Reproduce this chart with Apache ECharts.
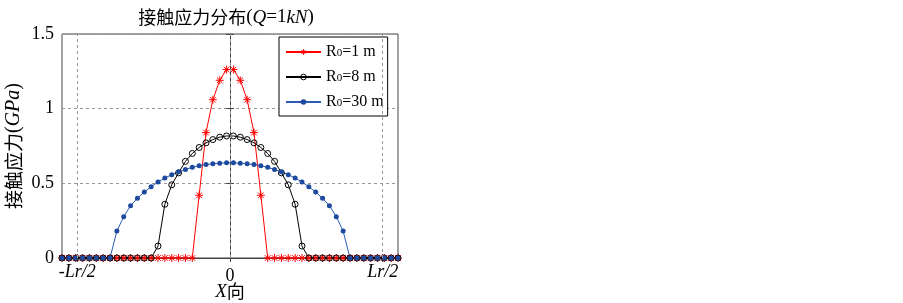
<!DOCTYPE html>
<html><head><meta charset="utf-8">
<script src="https://cdn.jsdelivr.net/npm/echarts@6/dist/echarts.min.js"></script>
<style>html,body{margin:0;padding:0;background:#fff}#c{width:903px;height:303px}</style>
</head><body><div id="c"></div>
<script>
// x positions (units of Lr/2)
const xValues = [
  -1.1000, -1.0551, -1.0102, -0.9653, -0.9204, -0.8755, -0.8306, -0.7857, -0.7408, -0.6959,
  -0.6510, -0.6061, -0.5612, -0.5163, -0.4714, -0.4265, -0.3816, -0.3367, -0.2918, -0.2469,
  -0.2020, -0.1571, -0.1122, -0.0673, -0.0224, 0.0224, 0.0673, 0.1122, 0.1571, 0.2020,
  0.2469, 0.2918, 0.3367, 0.3816, 0.4265, 0.4714, 0.5163, 0.5612, 0.6061, 0.6510,
  0.6959, 0.7408, 0.7857, 0.8306, 0.8755, 0.9204, 0.9653, 1.0102, 1.0551, 1.1000
];
const xTickValues = [-1, 0, 1];
const xTickLabels = ['-Lr/2', '0', 'Lr/2'];
const seriesNames = ['R0=1 m', 'R0=8 m', 'R0=30 m'];

const stressR1 = [
  0, 0, 0, 0, 0, 0, 0, 0, 0, 0,
  0, 0, 0, 0, 0, 0, 0, 0, 0, 0,
  0.42, 0.84, 1.06, 1.19, 1.262, 1.262, 1.19, 1.06, 0.84, 0.42,
  0, 0, 0, 0, 0, 0, 0, 0, 0, 0,
  0, 0, 0, 0, 0, 0, 0, 0, 0, 0
];
const stressR8 = [
  0, 0, 0, 0, 0, 0, 0, 0, 0, 0,
  0, 0, 0, 0, 0.08, 0.36, 0.49, 0.57, 0.647, 0.70,
  0.74, 0.771, 0.793, 0.809, 0.817, 0.817, 0.809, 0.793, 0.771, 0.74,
  0.70, 0.647, 0.57, 0.49, 0.36, 0.08, 0, 0, 0, 0,
  0, 0, 0, 0, 0, 0, 0, 0, 0, 0
];
const stressR30 = [
  0, 0, 0, 0, 0, 0, 0, 0, 0.18, 0.277,
  0.35, 0.40, 0.442, 0.477, 0.509, 0.535, 0.558, 0.577, 0.593, 0.607,
  0.618, 0.626, 0.631, 0.635, 0.637, 0.637, 0.635, 0.631, 0.626, 0.618,
  0.607, 0.593, 0.577, 0.558, 0.535, 0.509, 0.477, 0.442, 0.40, 0.35,
  0.277, 0.18, 0, 0, 0, 0, 0, 0, 0, 0
];

const FONT = "'Liberation Serif', 'Noto Sans CJK SC', serif";
const CJK = "'Noto Sans CJK SC', sans-serif";
const pair = (ys) => xValues.map((x, i) => [x, ys[i]]);

const chart = echarts.init(document.getElementById('c'), null, {renderer: 'canvas'});
const richBase = (size, csize) => ({
  n: {fontFamily: FONT, fontSize: size, color: '#000'},
  z: {fontFamily: FONT, fontSize: size, color: '#000', padding: [4, 0, 0, 0]},
  i: {fontFamily: FONT, fontSize: size, fontStyle: 'italic', color: '#000'},
  c: {fontFamily: CJK, fontSize: csize, color: '#000'}
});

const option = {
  animation: false,
  backgroundColor: '#fff',
  title: {
    text: '{c|接触应力分布}{n|(}{i|Q}{n|=1}{i|kN}{n|)}',
    left: 221, top: 3, textAlign: 'center',
    textStyle: {fontSize: 19, fontFamily: FONT, fontWeight: 'normal', rich: richBase(19, 18)}
  },
  grid: {
    left: 62, right: 505, top: 34, bottom: 45, show: true,
    containLabel: false, outerBoundsMode: 'none',
    borderColor: '#444', borderWidth: 1, backgroundColor: '#fff'
  },
  legend: {
    left: 279, top: 37, orient: 'vertical',
    data: seriesNames,
    selectedMode: false,
    itemWidth: 35, itemHeight: 7, itemGap: 7,
    padding: [6, 4, 5, 6],
    backgroundColor: '#fff', borderColor: '#000', borderWidth: 1, borderRadius: 0,
    itemStyle: {borderWidth: 1},
    formatter: (name) => '{r|R}{s|0}{r|' + name.slice(2) + '}',
    textStyle: {
      fontFamily: FONT, fontSize: 16, color: '#000', lineHeight: 18,
      rich: {
        r: {fontFamily: FONT, fontSize: 16, color: '#000', lineHeight: 18},
        s: {fontFamily: FONT, fontSize: 11, color: '#000', lineHeight: 18, padding: [3, 0, 0, 0]}
      }
    }
  },
  xAxis: [{
    type: 'value', min: -1.1, max: 1.1, position: 'bottom',
    axisLine: {show: true, lineStyle: {color: '#444'}},
    axisTick: {show: true, inside: true, length: 4, customValues: xTickValues, lineStyle: {color: '#444'}},
    axisLabel: {
      show: true, customValues: xTickValues, margin: 5,
      formatter: (v) => {
        const k = xTickValues.indexOf(Math.round(v * 1000) / 1000);
        const t = k >= 0 ? xTickLabels[k] : '';
        return t === '0' ? '{z|0}' : '{i|' + t + '}';
      },
      rich: richBase(18, 18)
    },
    splitLine: {show: false},
    name: '{i|X}{c|向}', nameLocation: 'middle', nameGap: 24, nameMoveOverlap: false,
    nameTextStyle: {rich: richBase(19, 18)}
  }, {
    type: 'value', min: -1.1, max: 1.1, position: 'top',
    axisLine: {show: true, lineStyle: {color: '#444'}},
    axisTick: {show: true, inside: true, length: 4, customValues: xTickValues, lineStyle: {color: '#444'}},
    axisLabel: {show: false},
    splitLine: {show: false}
  }],
  yAxis: [{
    type: 'value', min: 0, max: 1.5, interval: 0.5, position: 'left',
    axisLine: {show: true, lineStyle: {color: '#444'}},
    axisTick: {show: true, inside: true, length: 4, lineStyle: {color: '#444'}},
    axisLabel: {color: '#000', fontSize: 18, fontFamily: FONT, margin: 8},
    splitLine: {show: true, lineStyle: {color: '#999', type: [3, 3], width: 1}},
    name: '{c|接触应力}{n|(}{i|GPa}{n|)}', nameLocation: 'middle', nameGap: 38, nameRotate: 90,
    nameMoveOverlap: false,
    nameTextStyle: {rich: richBase(20, 19)}
  }, {
    type: 'value', min: 0, max: 1.5, interval: 0.5, position: 'right',
    axisLine: {show: true, lineStyle: {color: '#444'}},
    axisTick: {show: true, inside: true, length: 4, lineStyle: {color: '#444'}},
    axisLabel: {show: false},
    splitLine: {show: false}
  }],
  series: [{
    name: seriesNames[0], type: 'line', data: pair(stressR1),
    xAxisIndex: 0, yAxisIndex: 0,
    symbol: 'path://M5,0 L5,10 M0,5 L10,5 M1.5,1.5 L8.5,8.5 M1.5,8.5 L8.5,1.5',
    symbolSize: 8,
    itemStyle: {color: '#ff0000', borderColor: '#ff0000', borderWidth: 1},
    lineStyle: {color: '#ff0000', width: 1},
    markLine: {
      silent: true, symbol: ['none', 'none'], label: {show: false},
      lineStyle: {color: '#999', type: [3, 3], width: 1},
      emphasis: {disabled: true},
      data: xTickValues.map((v) => ({xAxis: v}))
    }
  }, {
    name: seriesNames[1], type: 'line', data: pair(stressR8),
    symbol: 'circle', symbolSize: 6,
    itemStyle: {color: 'rgba(0,0,0,0)', borderColor: '#000', borderWidth: 1},
    lineStyle: {color: '#000', width: 1}
  }, {
    name: seriesNames[2], type: 'line', data: pair(stressR30),
    symbol: 'circle', symbolSize: 5,
    itemStyle: {color: '#1d4a9e'},
    lineStyle: {color: '#2a5cb5', width: 1}
  }]
};
chart.setOption(option);
</script>
</body></html>
